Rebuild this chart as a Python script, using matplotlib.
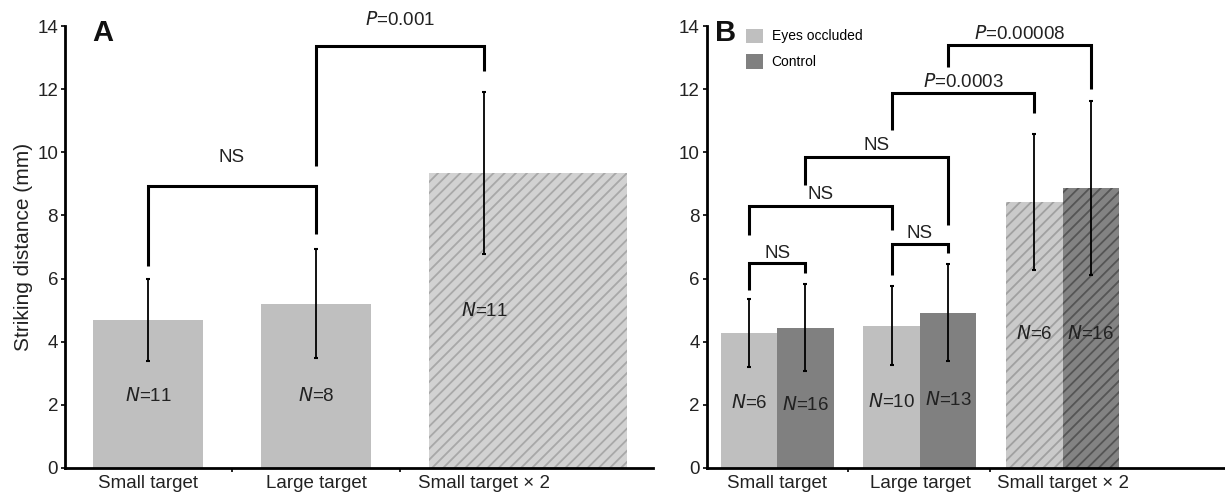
import numpy as np
import matplotlib
matplotlib.use("Agg")
import matplotlib.pyplot as plt
from matplotlib.patches import Patch

plt.rcParams['font.family'] = ['Liberation Sans', 'DejaVu Sans']
plt.rcParams['hatch.linewidth'] = 1.3

# PANEL A DATA
cats_a = ['Small target', 'Large target', 'Small target \u00d7 2']
mean_a = [4.67, 5.2, 9.35]
err_a = [1.3, 1.73, 2.57]
n_a = ['11', '8', '11']
n_y_a = [2.26, 2.26, 4.96]
width_a = [0.66, 0.66, 1.18]
# brackets: (bar i, bar j, top y, left leg end, right leg end, label, label y)
brk_a = [(0, 1, 8.93, 6.39, 7.4, 'NS', 9.84),
         (1, 2, 13.38, 9.56, 12.58, 'P=0.001', 14.2)]

# PANEL B DATA
cats_b = ['Small target', 'Large target', 'Small target \u00d7 2']
mean_occ = [4.27, 4.51, 8.42]
err_occ = [1.07, 1.26, 2.15]
mean_ctl = [4.44, 4.92, 8.86]
err_ctl = [1.38, 1.55, 2.76]
n_occ = ['6', '10', '6']
n_ctl = ['16', '13', '16']
n_y_occ = [2.04, 2.07, 4.24]
n_y_ctl = [1.98, 2.15, 4.24]
# bar index: 0..2 occluded, 3..5 control
brk_b = [(0, 3, 6.49, 5.64, 6.17, 'NS', 6.8),
         (1, 4, 7.09, 6.12, 6.8, 'NS', 7.44),
         (0, 1, 8.29, 7.39, 7.55, 'NS', 8.66),
         (3, 4, 9.85, 8.97, 7.7, 'NS', 10.22),
         (1, 2, 11.89, 10.72, 11.25, 'P=0.0003', 12.25),
         (4, 5, 13.42, 12.7, 12.01, 'P=0.00008', 13.76)]

LIGHT = '#bfbfbf'
DARK = '#808080'
FS = 13.5


def bracket(ax, x1, x2, y, y1, y2, label, ty):
    ax.plot([x1, x1, x2, x2], [y1, y, y, y2], color='black', lw=2.2,
            solid_joinstyle='miter', solid_capstyle='butt')
    if label.startswith('P='):
        txt = r'$\it{P}$' + label[1:]
    else:
        txt = label
    ax.text((x1 + x2) / 2, ty, txt, ha='center', va='center', fontsize=FS,
            color='#222222')


def style(ax, xmin, xmax, minor):
    ax.set_ylim(0, 14)
    ax.set_xlim(xmin, xmax)
    ax.set_yticks(range(0, 15, 2))
    ax.spines['top'].set_visible(False)
    ax.spines['right'].set_visible(False)
    ax.spines['left'].set_linewidth(2)
    ax.spines['bottom'].set_linewidth(2)
    ax.tick_params(axis='y', labelsize=FS, length=3, width=1.2, pad=2,
                   labelcolor='#222222')
    ax.tick_params(axis='x', which='major', labelsize=FS, length=0, pad=5,
                   labelcolor='#222222')
    ax.set_xticks(minor, minor=True)
    ax.tick_params(axis='x', which='minor', length=3, width=1.2)


fig = plt.figure(figsize=(12.25, 4.97), dpi=100)
axA = fig.add_axes([0.0531, 0.059, 0.4799, 0.888])
axB = fig.add_axes([0.5769, 0.059, 0.4223, 0.888])

# PANEL A
xa = np.arange(len(cats_a))
for i in range(3):
    if i < 2:
        axA.bar(xa[i] - 0.33, mean_a[i], width=width_a[i], align='edge',
                color=LIGHT, lw=0)
    else:
        axA.bar(xa[i] - 0.33, mean_a[i], width=width_a[i], align='edge',
                facecolor='#d2d2d2', edgecolor='#a8a8a8', hatch='///', lw=0)
    axA.errorbar(xa[i], mean_a[i], yerr=err_a[i], fmt='none', ecolor='black',
                 elinewidth=1.3, capsize=1.5, capthick=1.5)
    axA.text(xa[i], n_y_a[i], r'$\it{N}$=' + n_a[i], ha='center', va='center',
             fontsize=FS, color='#222222')
for b in brk_a:
    bracket(axA, xa[b[0]], xa[b[1]], *b[2:])
axA.set_xticks(xa)
axA.set_xticklabels(cats_a)
style(axA, -0.494, 3.006, [0.5, 1.5])
axA.set_ylabel('Striking distance (mm)', fontsize=15, labelpad=3,
               color='#222222')
axA.text(0.065, 0.985, 'A', transform=axA.transAxes, fontsize=21,
         fontweight='bold', ha='center', va='center', color='#111111')

# PANEL B
xb = np.arange(len(cats_b))
off = 0.198
bw = 0.396
xocc = xb - off
xctl = xb + off
for i in range(3):
    if i < 2:
        axB.bar(xocc[i], mean_occ[i], width=bw, color=LIGHT, lw=0)
        axB.bar(xctl[i], mean_ctl[i], width=bw, color=DARK, lw=0)
    else:
        axB.bar(xocc[i], mean_occ[i], width=bw, facecolor='#cacaca',
                edgecolor='#a0a0a0', hatch='///', lw=0)
        axB.bar(xctl[i], mean_ctl[i], width=bw, facecolor='#838383',
                edgecolor='#555555', hatch='///', lw=0)
axB.errorbar(xocc, mean_occ, yerr=err_occ, fmt='none', ecolor='black',
             elinewidth=1.3, capsize=1.5, capthick=1.5)
axB.errorbar(xctl, mean_ctl, yerr=err_ctl, fmt='none', ecolor='black',
             elinewidth=1.3, capsize=1.5, capthick=1.5)
for i in range(3):
    axB.text(xocc[i], n_y_occ[i], r'$\it{N}$=' + n_occ[i], ha='center',
             va='center', fontsize=FS, color='#222222')
    axB.text(xctl[i], n_y_ctl[i], r'$\it{N}$=' + n_ctl[i], ha='center',
             va='center', fontsize=FS, color='#222222')
allx = list(xocc) + list(xctl)
for b in brk_b:
    bracket(axB, allx[b[0]], allx[b[1]], *b[2:])
axB.set_xticks(xb)
axB.set_xticklabels(cats_b)
style(axB, -0.494, 3.13, [0.494, 1.49])
axB.text(0.036, 0.985, 'B', transform=axB.transAxes, fontsize=21,
         fontweight='bold', ha='center', va='center', color='#111111')
handles = [Patch(facecolor=LIGHT, edgecolor='none', label='Eyes occluded'),
           Patch(facecolor=DARK, edgecolor='none', label='Control')]
axB.legend(handles=handles, loc='upper left', bbox_to_anchor=(0.076, 0.995),
           frameon=False, fontsize=10, handlelength=1.25, handleheight=1.22,
           labelspacing=0.77, handletextpad=0.6, borderpad=0, borderaxespad=0)

fig.savefig('out.png', dpi=100)
